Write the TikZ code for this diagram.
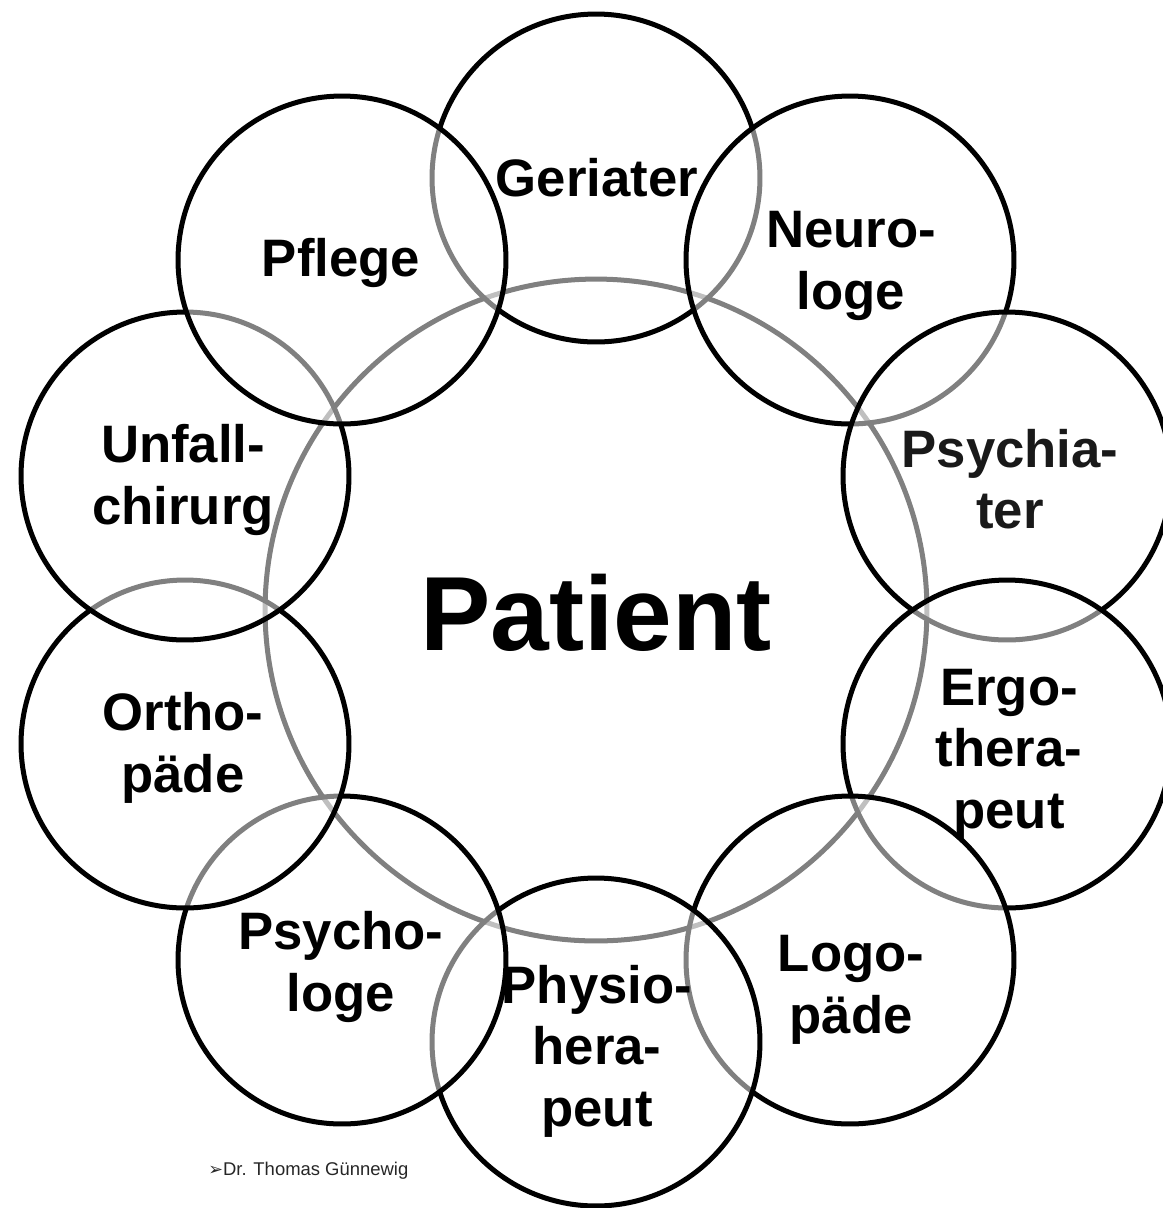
\documentclass[tikz,border=0pt]{standalone}
\usepackage{fontspec}
\setmainfont{Liberation Sans}
\newfontfamily\symfont{DejaVu Sans}

\begin{document}
\begin{tikzpicture}[x=0.02cm, y=-0.02cm,
    ring/.style={draw=black, line width=2.85pt, fill=white, fill opacity=0.5},
    job/.style={font=\fontsize{30}{35}\selectfont\bfseries, align=center, inner sep=0pt, text=black}]

    % Fix the page size and cut off what lies outside
    \useasboundingbox (0,0) rectangle (1163,1208);
    \clip (0,0) rectangle (1163,1208);

    % Define the centres: the patient and ten circles round it
    \coordinate (P) at (596,610);
    \coordinate (Ger) at (596,178);
    \coordinate (Neu) at (850,260);
    \coordinate (Psy) at (1007,476);
    \coordinate (Ergo) at (1007,744);
    \coordinate (Logo) at (850,960);
    \coordinate (Phys) at (596,1042);
    \coordinate (PsyL) at (342,960);
    \coordinate (Orth) at (185,744);
    \coordinate (Unf) at (185,476);
    \coordinate (Pfl) at (342,260);

    % Draw the big circle first, the others lie half over it
    \draw[ring] (P) circle[radius=6.62cm];

    % Draw the ten circles clockwise, each one over the one before
    \draw[ring] (Ger) circle[radius=3.28cm];
    \draw[ring] (Neu) circle[radius=3.28cm];
    \draw[ring] (Psy) circle[radius=3.28cm];
    \draw[ring] (Ergo) circle[radius=3.28cm];
    \draw[ring] (Logo) circle[radius=3.28cm];
    \draw[ring] (Phys) circle[radius=3.28cm];
    \draw[ring] (PsyL) circle[radius=3.28cm];
    \draw[ring] (Orth) circle[radius=3.28cm];
    \draw[ring] (Unf) circle[radius=3.28cm];
    \draw[ring] (Pfl) circle[radius=3.28cm];

    % Add the labels
    \node[job, font=\fontsize{60}{70}\selectfont\bfseries] (patient) at (596,613) {Patient};
    \node[job] (ger) at (597,178) {Geriater};
    \node[job] (neu) at (851,266) {Neuro-\\loge};
    \node[job, text=black!90] (psy) at (1010,479) {Psychia-\\ter};
    \node[job] (ergo) at (1009,754) {Ergo-\\thera-\\peut};
    \node[job] (logo) at (851,990) {Logo-\\päde};
    \node[job] (phys) at (597,1051) {Physio-\\hera-\\peut};
    \node[job] (psyl) at (341,967) {Psycho-\\loge};
    \node[job] (orth) at (183,748) {Ortho-\\päde};
    \node[job] (unf) at (183,480) {Unfall-\\chirurg};
    \node[job] (pfl) at (341,263) {Pflege};

    % Name in the lower left corner
    \node[anchor=west, inner sep=0pt, text=black!85, font=\fontsize{10.5}{12}\selectfont] (credit) at (208,1171) {{\symfont\fontsize{10}{12}\selectfont ➢}Dr. Thomas Günnewig};

\end{tikzpicture}
\end{document}
